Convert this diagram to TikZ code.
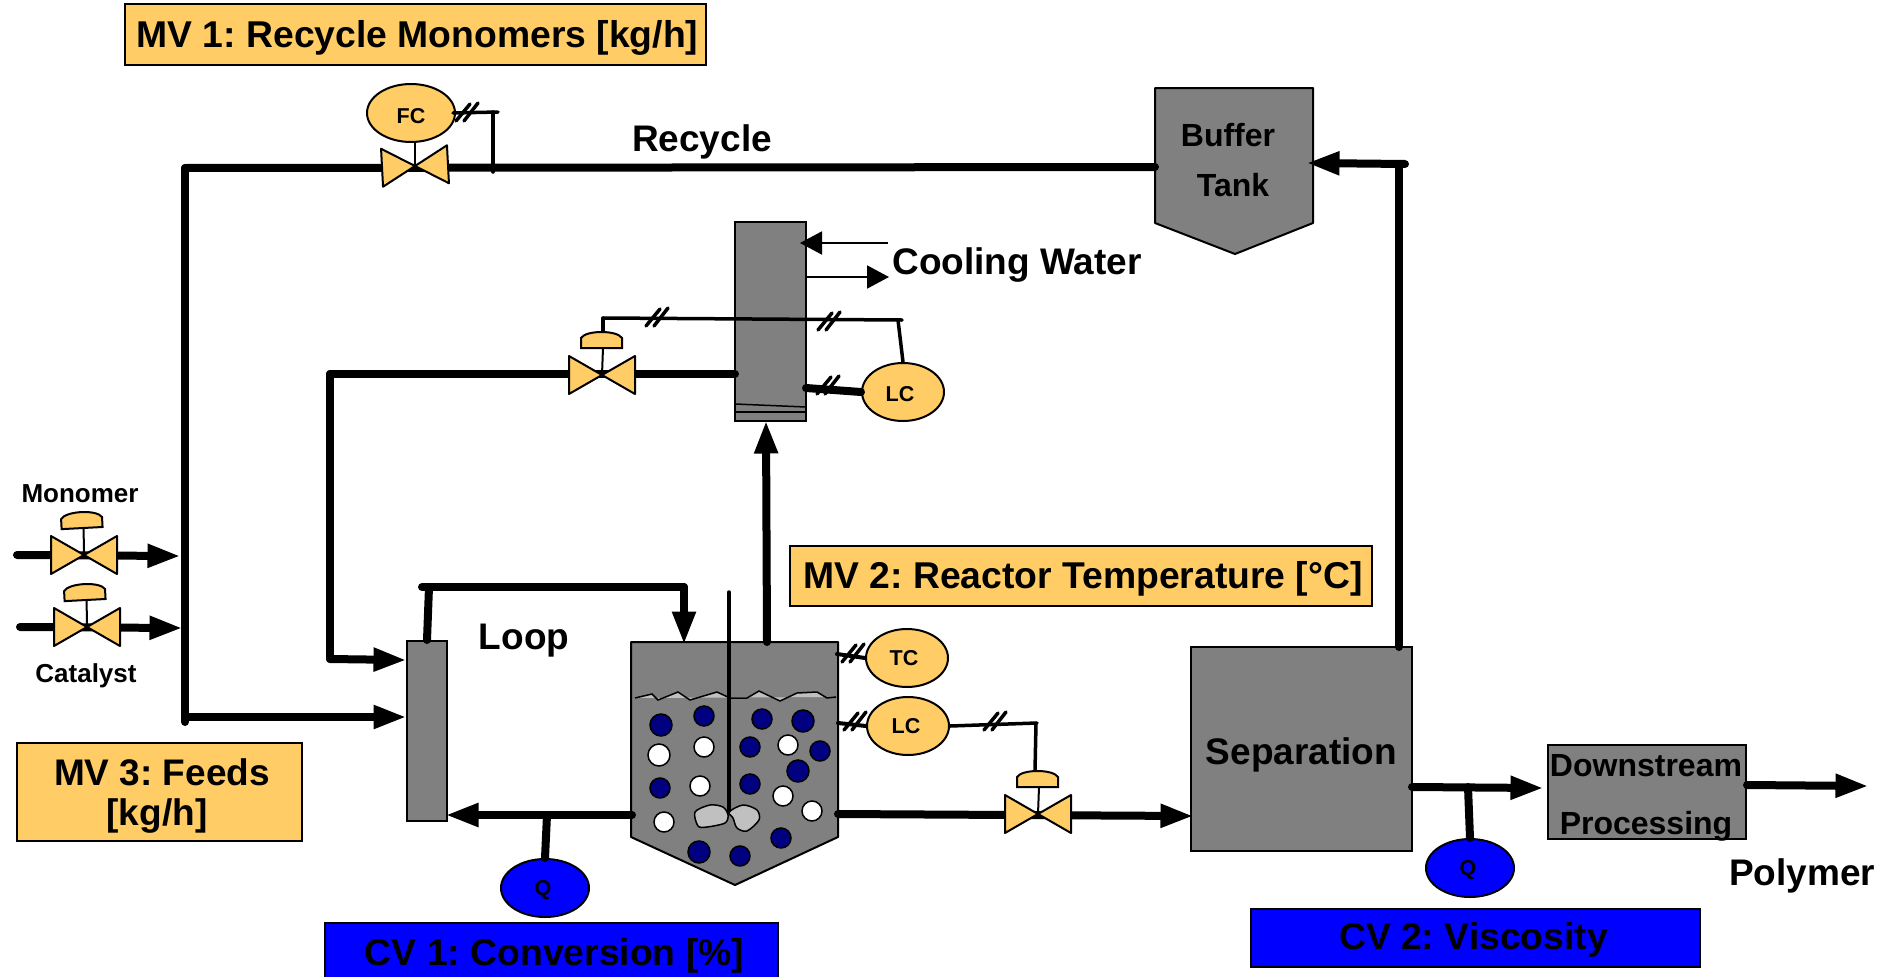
\documentclass[tikz,border=0pt]{standalone}
\usepackage{fontspec}
\setmainfont{Liberation Sans}
\frenchspacing
\usetikzlibrary{arrows.meta,shapes.geometric}
\definecolor{mvyellow}{HTML}{FFCC66}
\definecolor{cvblue}{HTML}{0000FF}
\definecolor{unitgrey}{HTML}{808080}
\definecolor{foamgrey}{HTML}{C0C0C0}
\definecolor{dotnavy}{HTML}{000080}
\tikzset{
    bigtext/.style={font=\fontsize{37}{40}\selectfont\bfseries,inner sep=0pt,text height=25pt,text depth=0pt},
    unittext/.style={font=\fontsize{32}{36}\selectfont\bfseries,inner sep=0pt,text height=23pt,text depth=0pt},
    feedtext/.style={font=\fontsize{26}{30}\selectfont\bfseries,inner sep=0pt,text height=18pt,text depth=0pt},
    mvbox/.style={bigtext,font=\fontsize{37.3}{40}\selectfont\bfseries,draw=black,line width=2pt,fill=mvyellow},
    cvbox/.style={bigtext,font=\fontsize{37.3}{40}\selectfont\bfseries,draw=black,line width=2pt,fill=cvblue},
    unitbox/.style={draw=black,line width=2pt,fill=unitgrey},
    ctrl/.style={ellipse,draw=black,line width=2pt,fill=mvyellow,inner sep=0pt,minimum width=82pt,minimum height=58pt,text height=15pt,text depth=0pt,font=\fontsize{21.5}{24}\selectfont\bfseries},
    sensor/.style={ctrl,fill=cvblue,minimum width=88pt},
    pipe/.style={line width=8pt,line cap=round},
    flow/.style={pipe,shorten >=-2.5pt,-{Triangle[length=33pt,width=22pt]}},
    signal/.style={line width=3.5pt,line cap=round},
    water/.style={line width=2pt,-{Triangle[length=22pt,width=23pt]}},
    valve/.pic={
        \draw[line width=2pt,fill=mvyellow,line join=round] (-33,-19) -- (0,0) -- (-33,19) -- cycle;
        \draw[line width=2pt,fill=mvyellow,line join=round] (33,-19) -- (0,0) -- (33,19) -- cycle;
    },
    ctrlvalve/.pic={
        \pic {valve};
        \draw[line width=2pt] (0,0) -- (1,-27);
        \draw[line width=2pt,fill=mvyellow] (-21,-27) -- (-21,-37) .. controls (-16,-45) and (15,-45) .. (20,-37) -- (20,-27) -- cycle;
    },
    ticks/.pic={
        \draw[signal] (-11,9) -- (3,-8);
        \draw[signal] (-3,9) -- (11,-9);
    }
}
\begin{document}
\begin{tikzpicture}[x=1pt,y=-1pt]
    \useasboundingbox (0,0) rectangle (1898,977);
    \clip (0,0) rectangle (1898,977);
    % units
    \node[unitbox,minimum width=40pt,minimum height=180pt] (mixer) at (427,731) {};
    \node[unitbox,minimum width=71pt,minimum height=199pt] (condenser) at (770.5,321.5) {};
    \node[unitbox,bigtext,text height=31pt,minimum width=221pt,minimum height=204pt] (separation) at (1301.5,749) {Separation};
    \node[unitbox,minimum width=198pt,minimum height=94pt] (downstream) at (1647,792) {};
    \node[unittext] (downtop) at (1646,765) {Downstream};
    \node[unittext] (downbot) at (1646,823) {Processing};
    \draw[unitbox,line join=round] (1155,88) -- (1313,88) -- (1313,223) -- (1235,254) -- (1155,223) -- cycle;
    \node[unittext] (buffer) at (1228,135) {Buffer};
    \node[unittext] (tank) at (1233,185) {Tank};
    % reactor
    \draw[unitbox,line join=round] (631,642) -- (838,642) -- (838,837) -- (735,885) -- (631,837) -- cycle;
    \fill[foamgrey] plot coordinates {(635,698) (652,694) (658,700) (678,692) (690,700) (717,692) (730,698) (747,698) (759,691) (780,701) (797,693) (817,692) (827,698) (836,697)} -- cycle;
    \draw[line width=1.5pt] plot coordinates {(635,698) (652,694) (658,700) (678,692) (690,700) (717,692) (730,698) (747,698) (759,691) (780,701) (797,693) (817,692) (827,698) (836,697)};
    \foreach \x/\y/\r in {661/725/11,704/716/10,762/719/10,803/721/11,750/747/10,820/751/10,798/771/11,660/788/10,750/784/10,781/838/10,699/852/11,740/856/10}
        \draw[line width=1.5pt,fill=dotnavy] (\x,\y) circle (\r pt);
    \foreach \x/\y/\r in {659/755/11,704/747/10,788/745/10,700/786/10,783/796/10,812/811/10,664/822/10}
        \draw[line width=1.5pt,fill=white] (\x,\y) circle (\r pt);
    \draw[line width=1.5pt,fill=foamgrey] plot[smooth cycle] coordinates {(695,812) (710,805) (723,807) (728,815) (725,823) (707,827) (698,826)};
    \draw[line width=1.5pt,fill=foamgrey] plot[smooth cycle] coordinates {(729,812) (743,805) (757,810) (759,820) (747,831) (737,828) (733,818)};
    \draw[line width=3.5pt,line cap=round] (729,592) -- (729,811);
    \draw[line width=1.5pt] (735,404) -- (806,407);
    \draw[line width=1.5pt] (735,412) -- (806,412);
    % controllers and sensors
    \node[ctrl,minimum width=88pt,text height=21pt] (fc) at (411,113) {FC};
    \node[ctrl,text height=19pt] (lctop) at (903,392) {\hspace*{-6pt}LC};
    \node[ctrl] (tc) at (907,658) {\hspace*{-6pt}TC};
    \node[ctrl] (lcbot) at (908,726) {\hspace*{-4pt}LC};
    \node[sensor] (qone) at (545,888) {\hspace*{-4pt}Q};
    \node[sensor] (qtwo) at (1470,868) {\hspace*{-4pt}Q};
    % pipe ends
    \coordinate (recycleL) at (185,168);
    \coordinate (recycleB) at (185,722);
    \coordinate (bufferIn) at (1309,163);
    \coordinate (bufferCorner) at (1405,164);
    \coordinate (sepTop) at (1399,647);
    \coordinate (sepOut) at (1412,787);
    \coordinate (downIn) at (1541,788);
    \coordinate (downOut) at (1747,785);
    \coordinate (vapourL) at (330,374);
    \coordinate (vapourB) at (330,659);
    \coordinate (loopL) at (422,587);
    \coordinate (loopR) at (684,587);
    \coordinate (fcv) at (415,166);
    \coordinate (condv) at (602,375);
    \coordinate (prodv) at (1038,814);
    \coordinate (monov) at (84,555);
    \coordinate (catv) at (87,627);
    % recycle line
    \draw[pipe] (1155,167) -- (recycleL);
    \draw[pipe] (recycleL) -- (recycleB);
    \draw[flow] (185,717) -- (404,717);
    \draw[flow] (bufferCorner) -- (bufferIn);
    \draw[pipe] (sepTop) -- (1399,164);
    % condenser return and loop
    \draw[pipe] (735,374) -- (vapourL);
    \draw[pipe] (vapourL) -- (vapourB);
    \draw[flow] (vapourB) -- (404,660);
    \draw[pipe] (loopL) -- (loopR);
    \draw[pipe] (429,587) -- (mixer.north);
    \draw[flow] (loopR) -- (684,642);
    \draw[flow] (767,642) -- (766,423);
    % reactor outlets
    \draw[flow] (632,815) -- (448,815);
    \draw[flow] (838,814) -- (1191,816);
    \draw[pipe] (547,815) -- (qone.north);
    \draw[flow] (sepOut) -- (downIn);
    \draw[flow] (downOut) -- (1866,786);
    \draw[pipe] (1468,787) -- (qtwo.north);
    \draw[pipe] (806,388) -- (lctop.west);
    % feeds
    \draw[flow] (17,555) -- (178,556);
    \draw[flow] (20,627) -- (180,628);
    % cooling water
    \draw[water] (888,243) -- (800,243);
    \draw[water] (807,277) -- (889,277);
    % signals
    \draw[signal] (603,318) -- (902,320);
    \draw[signal] (603,318) -- (603,332);
    \draw[signal] (898,320) -- (lctop.north);
    \draw[signal] (453,113) -- (498,112);
    \draw[signal] (493,112) -- (493,172);
    \draw[line width=2pt] (fcv |- fc.south) -- (fcv);
    \draw[line width=4pt,line cap=round] (837,654) -- (tc.west);
    \draw[line width=4pt,line cap=round] (838,723) -- (lcbot.west);
    \draw[signal] (lcbot.east) -- (1037,723);
    \draw[signal] (1036,723) -- (1035,771);
    \foreach \x/\y in {467/112,657/317,829/321,828/385,853/653,855/721,995/721}
        \pic at (\x,\y) {ticks};
    % valves
    \pic[rotate=3] at (fcv) {valve};
    \pic at (condv) {ctrlvalve};
    \pic at (prodv) {ctrlvalve};
    \pic[rotate=3] at (monov) {ctrlvalve};
    \pic[rotate=3] at (catv) {ctrlvalve};
    % labels
    \node[mvbox,minimum width=581pt,minimum height=61pt] (mvone) at (415.5,34.5) {\hspace*{4pt}MV 1: Recycle Monomers [kg/h]};
    \node[mvbox,minimum width=582pt,minimum height=60pt] (mvtwo) at (1081,576) {\hspace*{4pt}MV 2: Reactor Temperature [°C]};
    \node[mvbox,minimum width=285pt,minimum height=98pt] (mvthree) at (159.5,792) {};
    \node[bigtext] (mvthreea) at (162,773) {MV 3: Feeds};
    \node[bigtext] (mvthreeb) at (157,813) {[kg/h]};
    \node[cvbox,minimum width=453pt,minimum height=60pt] (cvone) at (551.5,953) {\hspace*{6pt}CV 1: Conversion [\%]};
    \node[cvbox,text height=22pt,minimum width=449pt,minimum height=58pt] (cvtwo) at (1475.5,938) {\hspace*{-4pt}CV 2: Viscosity};
    \node[bigtext] (recycle) at (702,139) {Recycle};
    \node[bigtext] (cooling) at (1017,262) {Cooling Water};
    \node[bigtext] (loop) at (524,637) {Loop};
    \node[bigtext] (polymer) at (1802,873) {Polymer};
    \node[feedtext] (monomer) at (80,493) {Monomer};
    \node[feedtext] (catalyst) at (86,673) {Catalyst};
\end{tikzpicture}
\end{document}
